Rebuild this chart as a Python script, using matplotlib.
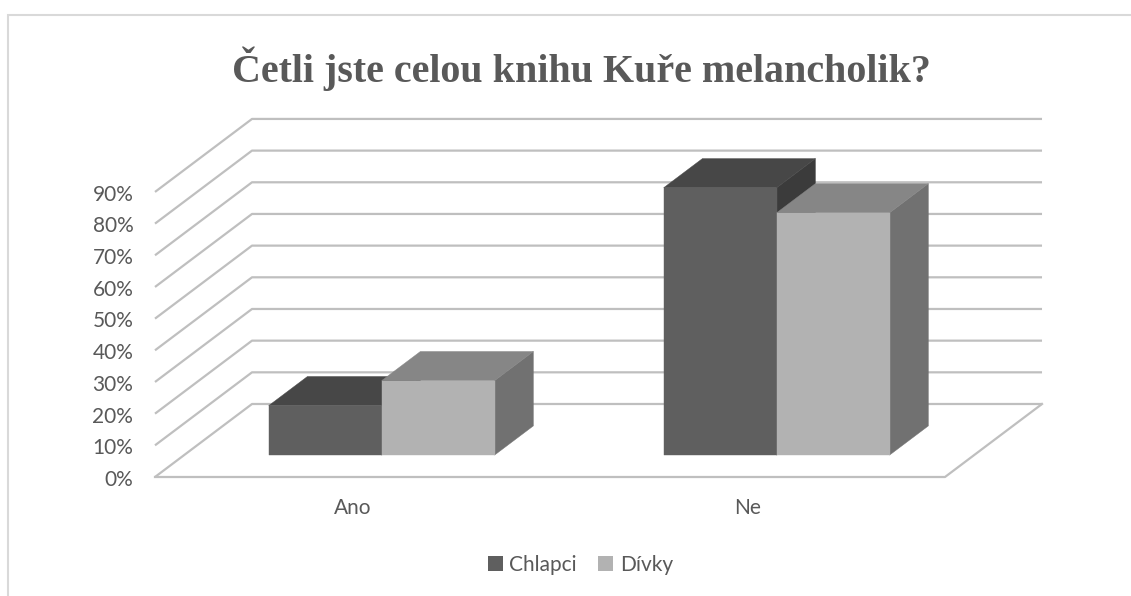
import matplotlib.pyplot as plt
from matplotlib.patches import Polygon, Patch, Rectangle

categories = ['Ano', 'Ne']
series = ['Chlapci', 'Dívky']
chlapci = [15.6, 84.4]
divky = [23.5, 76.5]
yticks = [0, 10, 20, 30, 40, 50, 60, 70, 80, 90]
ytick_labels = ['0%', '10%', '20%', '30%', '40%', '50%', '60%', '70%', '80%', '90%']

front_colors = ['#5f5f5f', '#b2b2b2']
top_colors = ['#474747', '#868686']
side_colors = ['#3b3b3b', '#717171']
grid_color = '#bfbfbf'
text_color = '#595959'

# oblique depth of the floor (in data units) and bar geometry
DX, DY = 0.2456, 23.05
bar_w = 0.286
d0, d1 = 0.3, 0.7

fig = plt.figure(figsize=(11.31, 5.96), dpi=100)
ax = fig.add_axes([0, 0, 1, 1])
ax.set_xlim(-0.3924, 2.4709)
ax.set_ylim(-37.57, 150.6)
ax.axis('off')

n = len(categories)

# walls / gridlines
for v in yticks:
    ax.plot([0, DX, n + DX], [v, v + DY, v + DY], color=grid_color, lw=1.6,
            solid_capstyle='butt', zorder=1)
ax.plot([0, n, n + DX], [0, 0, DY], color=grid_color, lw=1.6, zorder=1)

for v, lab in zip(yticks, ytick_labels):
    ax.text(-0.055, v - 0.9, lab, ha='right', va='center', fontsize=15,
            family='Lato', color=text_color)

for i, cat in enumerate(categories):
    ax.text(i + 0.5, -9.8, cat, ha='center', va='center', fontsize=15,
            family='Lato', color=text_color)


def draw_bar(x0, h, j):
    x1 = x0 + bar_w
    ox0, oy0 = d0 * DX, d0 * DY
    ox1, oy1 = d1 * DX, d1 * DY
    front = [(x0 + ox0, oy0), (x1 + ox0, oy0), (x1 + ox0, oy0 + h), (x0 + ox0, oy0 + h)]
    top = [(x0 + ox0, oy0 + h), (x1 + ox0, oy0 + h), (x1 + ox1, oy1 + h), (x0 + ox1, oy1 + h)]
    side = [(x1 + ox0, oy0), (x1 + ox1, oy1), (x1 + ox1, oy1 + h), (x1 + ox0, oy0 + h)]
    for pts, c in [(side, side_colors[j]), (top, top_colors[j]), (front, front_colors[j])]:
        ax.add_patch(Polygon(pts, closed=True, facecolor=c, edgecolor=c, lw=0.3, zorder=3))


for i in range(n):
    for j, vals in enumerate([chlapci, divky]):
        x0 = i + 0.5 - bar_w + j * bar_w
        draw_bar(x0, vals[i], j)

fig.text(0.514, 0.885, 'Četli jste celou knihu Kuře melancholik?', ha='center', va='center',
         fontsize=28.8, fontweight='bold', family='Liberation Serif', color=text_color)

handles = [Patch(facecolor=front_colors[j], edgecolor='none') for j in range(2)]
fig.legend(handles, series, loc='center', bbox_to_anchor=(0.513, 0.052), ncol=2, frameon=False,
           prop={'family': 'Lato', 'size': 15}, labelcolor=text_color, handlelength=0.75,
           handleheight=0.75, handletextpad=0.3, columnspacing=1.0)

fig.patches.append(Rectangle((8 / 1131, -0.1), 1.2, 1 - 15 / 596 + 0.1, transform=fig.transFigure,
                             fill=False, edgecolor='#d9d9d9', lw=1.5))

fig.savefig('out.png', dpi=100, facecolor='white')
